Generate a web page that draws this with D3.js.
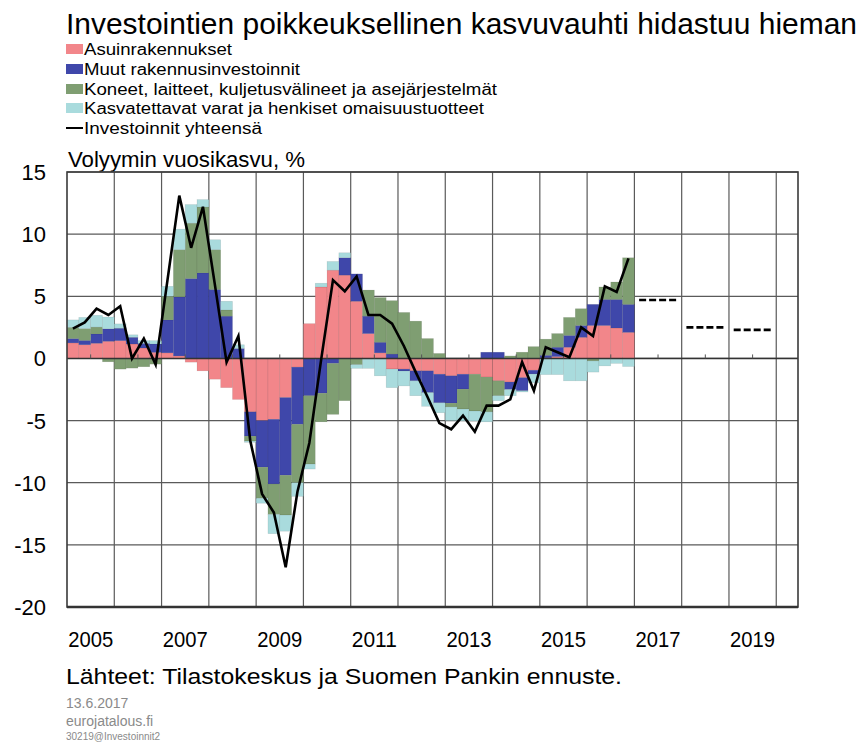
<!DOCTYPE html>
<meta charset="utf-8">
<style>
body {
  margin: 0;
  background: #fff;
  font-family: "Liberation Sans", Arial, Helvetica, sans-serif;
}
svg text {
  font-family: "Liberation Sans", Arial, Helvetica, sans-serif;
}
</style>
<svg id="chart" width="864" height="744"></svg>
<script src="https://d3js.org/d3.v7.min.js"></script>
<script>
'use strict';

// quarterly contributions, 2005Q1 - 2016Q4 (percentage points)
const startYear = 2005;
const asuin = [
  1.25, 1.1, 1.22, 1.38,   1.43, 1.16, 0.84, 0.49,
  0.45, 0.2, -0.3, -1.0,   -1.67, -2.35, -3.3, -4.3,
  -5.0, -4.9, -3.15, -0.7, 2.8, 5.75, 7.1, 6.7,
  4.6, 2.0, 0.45, -0.85,   -0.86, -1.0, -1.0, -1.27,
  -1.4, -1.27, -1.27, -1.5, -1.8, -1.9, -1.55, -0.95,
  0.05, 0.15, 0.9, 1.7,    2.65, 2.65, 2.45, 2.1
];
const muut = [
  0.35, 0.35, 0.75, 1.0,   1.0, 0.54, 0.37, 0.67,
  2.65, 4.75, 6.43, 6.88,  5.55, 3.4, 0.8, -1.95,
  -3.75, -5.2, -6.25, -4.6, -3.0, -2.8, -0.4, 1.4,
  2.2, 1.4, 0.85, 0.35,    -0.15, -0.8, -1.75, -2.3,
  -2.2, -1.2, 0.0, 0.5,    0.5, -0.6, -1.05, -0.3,
  0.2, 0.75, 0.95, 0.95,   1.7, 2.1, 2.3, 2.25
];
const koneet = [
  0.9, 0.95, 0.55, -0.27,  -0.86, -0.78, -0.67, -0.46,
  1.9, 3.8, 4.45, 5.3,     3.2, 0.5, 0.0, -0.4,
  -2.5, -2.45, -3.2, -4.7, -5.5, -2.3, -4.1, -3.4,
  -0.5, 2.1, 3.6, 4.3,     3.7, 3.0, 1.6, 0.4,
  -0.3, -1.6, -2.96, -2.8, -1.2, 0.2, 0.5, 0.95,
  1.3, 1.1, 1.45, 1.35,    -0.2, 1.0, 1.4, 3.75
];
const kasvatettavat = [
  0.6, 0.9, 0.95, 0.95,    0.35, 0.2, 0.22, 0.27,
  0.8, 1.65, 1.5, 0.6,     0.8, 0.7, 0.3, -0.1,
  -0.4, -1.55, -1.3, -1.1, -0.4, 0.3, 0.7, 0.4,
  -0.3, -0.8, -1.4, -1.5,  -1.2, -1.2, -1.1, -0.8,
  -1.1, -0.95, -0.8, -0.8, -0.4, -0.5, -0.1, -0.7,
  -1.3, -1.3, -1.8, -1.8,  -0.9, -0.6, -0.4, -0.65
];
const yhteensa = [
  2.4, 2.9, 4.0, 3.5,      4.2, 0.0, 1.6, -0.5,
  6.3, 13.1, 8.9, 12.2,    6.0, -0.3, 1.8, -6.6,
  -10.9, -12.4, -16.8, -10.7, -6.8, -0.1, 6.3, 5.4,
  6.6, 3.5, 3.5, 2.8,      1.0, -1.1, -3.1, -5.2,
  -5.7, -4.6, -5.9, -3.8,  -3.8, -3.3, -0.3, -2.6,
  0.9, 0.5, 0.1, 2.5,      1.8, 5.8, 5.35, 8.05
];

// annual forecast
const forecastYears = [2017, 2018, 2019];
const forecastValues = [4.7, 2.5, 2.3];

const seriesNames = [
  "Asuinrakennukset",
  "Muut rakennusinvestoinnit",
  "Koneet, laitteet, kuljetusvälineet ja asejärjestelmät",
  "Kasvatettavat varat ja henkiset omaisuustuotteet"
];
const lineName = "Investoinnit yhteensä";
const colors = ["#f2868a", "#3f47aa", "#7f9e72", "#a9dbdd"];
const legendWidths = [148, 216, 413, 400, 178];

const yTicks = [15, 10, 5, 0, -5, -10, -15, -20];
const xLabels = [2005, 2007, 2009, 2011, 2013, 2015, 2017, 2019];

const plot = {left: 67, right: 798, top: 172, bottom: 607};

const x = d3.scaleLinear().domain([2005, 2020.46]).range([plot.left, plot.right]),
      y = d3.scaleLinear().domain([-20, 15]).range([plot.bottom, plot.top]);

const keys = ["a", "m", "k", "v"];
const table = yhteensa.map((t, i) => ({
  t: startYear + i / 4,
  a: asuin[i], m: muut[i], k: koneet[i], v: kasvatettavat[i],
  total: t
}));

const svg = d3.select("#chart");

// title + legend
svg.append("text")
    .attr("x", 66).attr("y", 34)
    .attr("font-size", 30)
    .attr("textLength", 791)
    .attr("lengthAdjust", "spacingAndGlyphs")
    .text("Investointien poikkeuksellinen kasvuvauhti hidastuu hieman");

const legendRows = [49, 69, 89, 108, 128];
const legend = svg.append("g");
seriesNames.forEach((name, i) => {
  legend.append("rect")
      .attr("x", 66).attr("y", legendRows[i] - 5)
      .attr("width", 17).attr("height", 10)
      .attr("fill", colors[i]);
  legend.append("text")
      .attr("x", 84).attr("y", legendRows[i] + 6)
      .attr("font-size", 16)
      .attr("textLength", legendWidths[i])
      .attr("lengthAdjust", "spacingAndGlyphs")
      .text(name);
});
legend.append("line")
    .attr("x1", 66).attr("x2", 83)
    .attr("y1", legendRows[4]).attr("y2", legendRows[4])
    .attr("stroke", "#000").attr("stroke-width", 2);
legend.append("text")
    .attr("x", 84).attr("y", legendRows[4] + 6)
    .attr("font-size", 16)
    .attr("textLength", legendWidths[4])
    .attr("lengthAdjust", "spacingAndGlyphs")
    .text(lineName);

svg.append("text")
    .attr("x", 68).attr("y", 167)
    .attr("font-size", 22)
    .attr("textLength", 237)
    .attr("lengthAdjust", "spacingAndGlyphs")
    .text("Volyymin vuosikasvu, %");

// grid
const grid = svg.append("g").attr("stroke", "#5a5a5a").attr("stroke-width", 1.2);
grid.selectAll(".hg")
  .data(yTicks)
  .join("line")
    .attr("x1", plot.left).attr("x2", plot.right)
    .attr("y1", d => y(d)).attr("y2", d => y(d));
grid.selectAll(".vg")
  .data(d3.range(2006, 2021))
  .join("line")
    .attr("x1", d => x(d)).attr("x2", d => x(d))
    .attr("y1", plot.top).attr("y2", plot.bottom);

// stacked bars
const stack = d3.stack().keys(keys).offset(d3.stackOffsetDiverging);
const layers = stack(table);

svg.append("g").selectAll("g")
  .data(layers)
  .join("g")
    .attr("fill", (d, i) => colors[i])
  .selectAll("rect")
  .data(d => d)
  .join("rect")
    .attr("x", d => x(d.data.t))
    .attr("width", d => x(d.data.t + 0.25) - x(d.data.t))
    .attr("y", d => y(Math.max(d[0], d[1])))
    .attr("height", d => Math.abs(y(d[0]) - y(d[1])))
    .attr("stroke", "rgba(0,0,0,0.12)")
    .attr("stroke-width", 0.6);

// zero line and mid-year ticks
svg.append("line")
    .attr("x1", plot.left).attr("x2", plot.right)
    .attr("y1", y(0)).attr("y2", y(0))
    .attr("stroke", "#333").attr("stroke-width", 1.4);
svg.append("g").selectAll("line")
  .data(d3.range(2005, 2020))
  .join("line")
    .attr("x1", d => x(d + 0.5)).attr("x2", d => x(d + 0.5))
    .attr("y1", y(0) - 4).attr("y2", y(0))
    .attr("stroke", "#555").attr("stroke-width", 1);

// total line
const line = d3.line()
    .x(d => x(d.t + 0.125))
    .y(d => y(d.total));
svg.append("path")
    .datum(table)
    .attr("fill", "none")
    .attr("stroke", "#000")
    .attr("stroke-width", 2.6)
    .attr("stroke-linejoin", "miter")
    .attr("d", line);

// forecast dashes
svg.append("g").selectAll("line")
  .data(forecastYears)
  .join("line")
    .attr("x1", d => x(d + 0.1)).attr("x2", d => x(d + 0.9))
    .attr("y1", (d, i) => y(forecastValues[i]))
    .attr("y2", (d, i) => y(forecastValues[i]))
    .attr("stroke", "#000")
    .attr("stroke-width", 2.6)
    .attr("stroke-dasharray", "7,3");

// frame
svg.append("rect")
    .attr("x", plot.left).attr("y", plot.top)
    .attr("width", plot.right - plot.left)
    .attr("height", plot.bottom - plot.top)
    .attr("fill", "none")
    .attr("stroke", "#3a3a3a")
    .attr("stroke-width", 1.6);
svg.append("line")
    .attr("x1", plot.left).attr("x2", plot.right)
    .attr("y1", plot.bottom).attr("y2", plot.bottom)
    .attr("stroke", "#333").attr("stroke-width", 2.4);

// axis labels
svg.append("g").selectAll("text")
  .data(yTicks)
  .join("text")
    .attr("x", 46)
    .attr("y", d => y(d) + 8)
    .attr("text-anchor", "end")
    .attr("font-size", 22)
    .text(d => d);

svg.append("g").selectAll("text")
  .data(xLabels)
  .join("text")
    .attr("x", d => x(d + 0.5))
    .attr("y", 647)
    .attr("text-anchor", "middle")
    .attr("font-size", 22)
    .attr("textLength", 45)
    .attr("lengthAdjust", "spacingAndGlyphs")
    .text(d => d);

// footer
svg.append("text")
    .attr("x", 66).attr("y", 684)
    .attr("font-size", 22)
    .attr("textLength", 556)
    .attr("lengthAdjust", "spacingAndGlyphs")
    .text("Lähteet: Tilastokeskus ja Suomen Pankin ennuste.");
svg.append("text")
    .attr("x", 66).attr("y", 708)
    .attr("font-size", 14).attr("fill", "#8a8a8a")
    .text("13.6.2017");
svg.append("text")
    .attr("x", 66).attr("y", 726)
    .attr("font-size", 14).attr("fill", "#8a8a8a")
    .text("eurojatalous.fi");
svg.append("text")
    .attr("x", 66).attr("y", 740)
    .attr("font-size", 10).attr("fill", "#8a8a8a")
    .text("30219@Investoinnit2");
</script>
